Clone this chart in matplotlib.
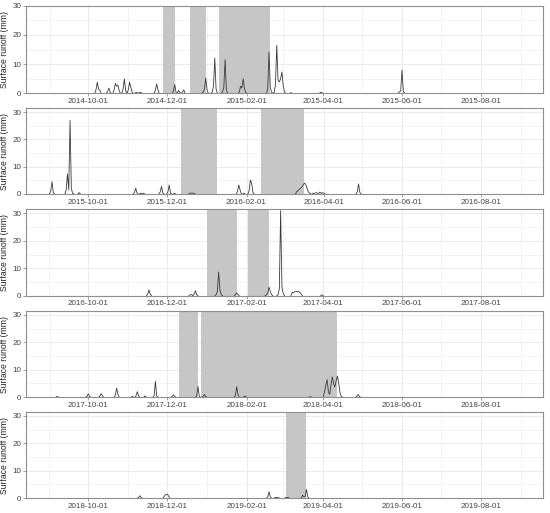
import matplotlib
matplotlib.use("Agg")
import matplotlib.pyplot as plt
import pandas as pd

plt.rcParams['font.family'] = ['Liberation Sans', 'DejaVu Sans']

# ---------------- data ----------------
years = [2014, 2015, 2016, 2017, 2018]

runoff_2014 = [
    ("2014-09-08", [0, 0]), ("2014-09-14", [0, 0]), ("2014-09-19", [0, 0]), ("2014-09-24", [0, 0]),
    ("2014-10-06", [0, 1.2, 3.8, 1.5, 1.0, 0]),
    ("2014-10-15", [0, 0.6, 1.8, 0.4, 0]),
    ("2014-10-20", [0, 1.0, 3.4, 2.4, 2.8, 0.8, 0]),
    ("2014-10-27", [0, 1.5, 4.9, 0.8, 0]),
    ("2014-10-31", [0, 1.2, 3.8, 2.0, 0.4, 0]),
    ("2014-11-06", [0, 0.3, 0.2, 0, 0.3, 0.2, 0]),
    ("2014-11-21", [0, 1.0, 3.2, 1.2, 0]),
    ("2014-12-05", [0, 0.8, 3.0, 0.3, 0, 1.0, 0.2, 0, 0.4, 1.2, 0]),
    ("2014-12-28", [0, 0.4, 1.5, 5.2, 1.2, 0]),
    ("2015-01-04", [0, 0.4, 2.5, 12.1, 1.5, 0]),
    ("2015-01-12", [0, 0.5, 2.0, 11.5, 1.0, 0]),
    ("2015-01-25", [0, 0.5, 2.4, 1.8, 5.0, 1.5, 0.3, 0]),
    ("2015-02-16", [0, 1.5, 14.1, 2.0, 0.4, 0, 0.3, 3.0, 16.4, 4.5, 3.9, 5.0, 7.3, 2.5, 0.5, 0]),
    ("2015-03-06", [0, 0.2, 0]), ("2015-03-15", [0, 0]), ("2015-03-29", [0, 0.3, 0.2, 0]),
    ("2015-05-04", [0, 0, 0]), ("2015-05-12", [0, 0]), ("2015-05-19", [0, 0]),
    ("2015-05-29", [0, 0.5, 0.8, 8.0, 0.8, 0]),
    ("2015-06-12", [0, 0]), ("2015-06-22", [0, 0]), ("2015-07-10", [0, 0]),
    ("2015-07-22", [0, 0]), ("2015-08-05", [0, 0]), ("2015-08-20", [0, 0]),
]

runoff_2015 = [
    ("2015-09-01", [0, 1.0, 4.5, 0.5, 0]),
    ("2015-09-13", [0, 1.5, 7.4, 1.5, 27.0, 2.0, 0.3, 0]),
    ("2015-09-23", [0, 0.5, 0]),
    ("2015-10-05", [0, 0]), ("2015-10-15", [0, 0]), ("2015-11-02", [0, 0]),
    ("2015-11-05", [0, 0.6, 2.1, 0.4, 0]),
    ("2015-11-10", [0, 0.3, 0, 0.3, 0]),
    ("2015-11-25", [0, 0.8, 2.8, 0.5, 0]),
    ("2015-12-01", [0, 0.8, 3.3, 0.3, 0]),
    ("2015-12-06", [0, 0.2, 0]),
    ("2015-12-18", [0, 0.3, 0.3, 0.3, 0.3, 0]),
    ("2016-01-24", [0, 1.0, 3.3, 1.5, 0]),
    ("2016-01-29", [0, 0.3, 0]),
    ("2016-02-02", [0, 1.2, 5.1, 4.0, 0.5, 0]),
    ("2016-03-10", [0, 0.9, 1.2, 1.8, 2.1, 2.6, 3.3, 4.0, 3.5, 2.0, 0.8, 0.3, 0]),
    ("2016-03-23", [0.3, 0.2, 0.3, 0.5, 0.3, 0.2, 0.7, 0.2, 0.5, 0.3, 0]),
    ("2016-04-07", [0, 0]),
    ("2016-04-26", [0, 0.8, 3.7, 0.6, 0]),
    ("2016-05-20", [0, 0]), ("2016-06-15", [0, 0]), ("2016-06-28", [0, 0]),
    ("2016-07-06", [0, 0]), ("2016-07-20", [0, 0]), ("2016-07-27", [0, 0]),
    ("2016-08-03", [0, 0]), ("2016-08-16", [0, 0]), ("2016-08-22", [0, 0]),
]

runoff_2016 = [
    ("2016-09-25", [0, 0]), ("2016-09-29", [0, 0]), ("2016-10-29", [0, 0]),
    ("2016-11-15", [0, 0.5, 2.1, 0.5, 0]),
    ("2016-11-24", [0, 0]), ("2016-11-29", [0, 0]),
    ("2016-12-18", [0, 0.3, 0.4, 0]),
    ("2016-12-21", [0, 0.5, 1.8, 0.3, 0]),
    ("2017-01-07", [0, 0.3, 1.5, 8.6, 2.0, 0.3, 0]),
    ("2017-01-22", [0, 0.4, 1.0, 0.3, 0]),
    ("2017-01-28", [0, 0]),
    ("2017-02-15", [0, 0.3, 1.0, 3.1, 1.5, 0.3, 0]),
    ("2017-02-24", [0, 0.3, 2.5, 31.0, 3.0, 0.8, 0]),
    ("2017-03-07", [0, 1.2, 1.0, 1.5, 1.6, 1.3, 1.5, 1.2, 0.5, 0]),
    ("2017-03-30", [0, 0.3, 0]),
    ("2017-04-10", [0, 0]), ("2017-04-25", [0, 0]), ("2017-05-10", [0, 0]),
    ("2017-05-25", [0, 0]), ("2017-06-02", [0, 0]), ("2017-06-22", [0, 0]),
    ("2017-07-20", [0, 0]), ("2017-08-10", [0, 0]), ("2017-08-20", [0, 0]),
]

runoff_2017 = [
    ("2017-09-06", [0, 0.3, 0]), ("2017-09-10", [0, 0]),
    ("2017-09-29", [0, 0.3, 1.2, 0.3, 0]),
    ("2017-10-09", [0, 0.4, 1.3, 0.5, 0]),
    ("2017-10-15", [0, 0, 0]),
    ("2017-10-21", [0, 0.8, 3.3, 1.0, 0]),
    ("2017-11-03", [0, 0.3, 0]),
    ("2017-11-06", [0, 0.5, 2.0, 0.5, 0]),
    ("2017-11-13", [0, 0.5, 0]),
    ("2017-11-20", [0, 0.5, 5.8, 0.5, 0]),
    ("2017-11-26", [0, 0, 0]),
    ("2017-12-04", [0, 0.3, 0.9, 0.2, 0]),
    ("2017-12-23", [0, 0.5, 3.9, 0.3, 0]),
    ("2017-12-28", [0, 0.3, 1.0, 0.2, 0]),
    ("2018-01-22", [0, 0.8, 3.8, 0.8, 0]),
    ("2018-01-29", [0, 0.4, 0.2, 0]),
    ("2018-03-21", [0, 0.2, 0]),
    ("2018-04-01", [0, 2.0, 4.5, 6.4, 2.0, 1.0, 4.5, 7.4, 5.0, 3.7, 6.0, 7.7, 5.0, 1.5, 0.3, 0]),
    ("2018-04-20", [0, 0]),
    ("2018-04-26", [0, 0.3, 1.0, 0.3, 0]),
    ("2018-05-03", [0, 0]), ("2018-06-15", [0, 0]), ("2018-06-20", [0, 0]),
    ("2018-07-15", [0, 0]), ("2018-08-01", [0, 0]),
]

runoff_2018 = [
    ("2018-09-06", [0, 0, 0]), ("2018-09-12", [0, 0]), ("2018-09-18", [0, 0]),
    ("2018-09-24", [0, 0]), ("2018-10-01", [0, 0]), ("2018-10-08", [0, 0]),
    ("2018-10-16", [0, 0]), ("2018-10-30", [0, 0]),
    ("2018-11-08", [0, 0.3, 0.9, 0.2, 0]),
    ("2018-11-28", [0, 0.8, 1.3, 1.5, 1.0, 0]),
    ("2019-02-12", [0, 0]),
    ("2019-02-16", [0, 0.5, 2.3, 0.5, 0]),
    ("2019-02-22", [0, 0.3, 0.2, 0.3, 0]),
    ("2019-03-02", [0, 0.2, 0.3, 0.2, 0]),
    ("2019-03-15", [0, 1.1, 0.5, 0.6, 3.2, 0.5, 0]),
    ("2019-03-25", [0, 0]),
    ("2019-05-10", [0, 0]), ("2019-05-20", [0, 0]), ("2019-05-28", [0, 0]),
    ("2019-06-04", [0, 0]), ("2019-08-05", [0, 0]), ("2019-08-12", [0, 0]),
    ("2019-08-20", [0, 0]), ("2019-08-26", [0, 0]),
]

snow_periods = {
    2014: [("2014-11-28", "2014-12-07"), ("2014-12-19", "2014-12-31"), ("2015-01-10", "2015-02-19")],
    2015: [("2015-12-12", "2016-01-09"), ("2016-02-12", "2016-03-17")],
    2016: [("2017-01-01", "2017-01-24"), ("2017-02-02", "2017-02-18")],
    2017: [("2017-12-10", "2017-12-25"), ("2017-12-27", "2018-04-12")],
    2018: [("2019-03-03", "2019-03-19")],
}

runoff = {2014: runoff_2014, 2015: runoff_2015, 2016: runoff_2016,
          2017: runoff_2017, 2018: runoff_2018}

y_top = {2014: 30.0, 2015: 31.5, 2016: 31.5, 2017: 31.5, 2018: 31.5}

# ---------------- figure ----------------
W, H = 550, 513
fig = plt.figure(figsize=(W / 100, H / 100), dpi=100)

tops = [5.7, 108.0, 209.3, 310.8, 411.8]
heights = [87.6, 86.0, 86.3, 86.4, 86.4]
left, right = 26.0, 543.0

frame_col = '#8f8f8f'
grid_col = '#ebebeb'

for i, yr in enumerate(years):
    t, h = tops[i], heights[i]
    ax = fig.add_axes([left / W, 1 - (t + h) / H, (right - left) / W, h / H])

    start = pd.Timestamp(f"{yr}-09-01")
    end = pd.Timestamp(f"{yr + 1}-08-31")
    pad = pd.Timedelta(days=18.2)
    ax.set_xlim(start - pad, end + pad)
    ax.set_ylim(0, y_top[yr])

    major = [pd.Timestamp(f"{yr}-10-01"), pd.Timestamp(f"{yr}-12-01"),
             pd.Timestamp(f"{yr + 1}-02-01"), pd.Timestamp(f"{yr + 1}-04-01"),
             pd.Timestamp(f"{yr + 1}-06-01"), pd.Timestamp(f"{yr + 1}-08-01")]
    minor = [pd.Timestamp(f"{yr}-09-01"), pd.Timestamp(f"{yr}-11-01"),
             pd.Timestamp(f"{yr + 1}-01-01"), pd.Timestamp(f"{yr + 1}-03-01"),
             pd.Timestamp(f"{yr + 1}-05-01"), pd.Timestamp(f"{yr + 1}-07-01"),
             pd.Timestamp(f"{yr + 1}-09-01")]
    ax.set_xticks(major)
    ax.set_xticklabels([d.strftime("%Y-%m-%d") for d in major])
    ax.set_xticks(minor, minor=True)
    ax.set_yticks([0, 10, 20, 30])
    ax.set_yticks([5, 15, 25], minor=True)

    ax.grid(True, which='major', color=grid_col, lw=0.7, zorder=0)
    ax.grid(True, which='minor', color=grid_col, lw=0.4, zorder=0)
    ax.set_axisbelow(True)

    for s, e in snow_periods[yr]:
        ax.axvspan(pd.Timestamp(s), pd.Timestamp(e), color='#c6c6c6', lw=0, zorder=1)

    for s, vals in runoff[yr]:
        d = pd.date_range(s, periods=len(vals), freq='D')
        ax.plot(d, vals, color='#3a3a3a', lw=0.6, zorder=2)

    for sp in ax.spines.values():
        sp.set_color(frame_col)
        sp.set_linewidth(0.8)
    ax.tick_params(which='major', length=2, width=0.6, color=frame_col,
                   labelsize=5.8, labelcolor='#444444', pad=1.5)
    ax.tick_params(which='minor', length=0)
    ax.set_ylabel("Surface runoff (mm)", fontsize=6.2, color='#222222', labelpad=2)

fig.savefig("out.png", dpi=100)
